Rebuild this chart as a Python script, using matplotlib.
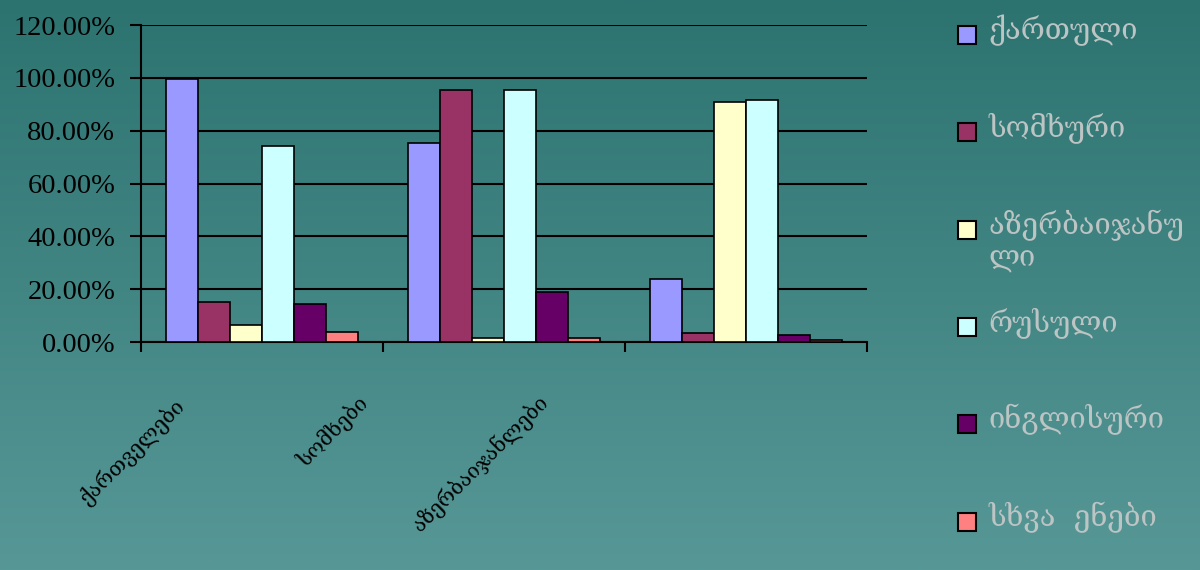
import numpy as np
import matplotlib
matplotlib.use('Agg')
import matplotlib.pyplot as plt
from matplotlib.patches import Rectangle
from matplotlib.ticker import PercentFormatter

# ეროვნებები (კატეგორიები) და ენები (სერიები)
groups = ['ქართველები', 'სომხები', 'აზერბაიჯანლები']
languages = ['ქართული', 'სომხური', 'აზერბაიჯანული', 'რუსული', 'ინგლისური', 'სხვა ენები']
legend_labels = ['ქართული', 'სომხური', 'აზერბაიჯანუ\nლი', 'რუსული', 'ინგლისური', 'სხვა  ენები']
colors = ['#9999FF', '#993366', '#FFFFCC', '#CCFFFF', '#660066', '#FF8080']

# პროცენტები, თითო ენა - სამი ჯგუფისთვის
kartuli = [99.5, 75.3, 23.8]
somkhuri = [15.1, 95.6, 3.5]
azeri = [6.4, 1.6, 90.7]
rusuli = [74.2, 95.6, 91.7]
inglisuri = [14.4, 19.0, 2.6]
skhva = [3.8, 1.6, 0.7]
values = [kartuli, somkhuri, azeri, rusuli, inglisuri, skhva]

serif = ['Liberation Serif', 'DejaVu Serif']
geo = ['DejaVu Serif', 'DejaVu Sans']

fig = plt.figure(figsize=(12, 5.7), dpi=100)

# ფონი - გრადიენტი
bg = fig.add_axes([0, 0, 1, 1], zorder=-10)
grad = np.linspace(0, 1, 256).reshape(-1, 1)
top = np.array([0x2C, 0x73, 0x70]) / 255
bot = np.array([0x57, 0x98, 0x97]) / 255
img = top + (bot - top) * grad[:, :, None]
bg.imshow(img, aspect='auto', extent=[0, 1, 0, 1])
bg.axis('off')

ax = fig.add_axes([0.1175, 0.4, 0.605, 0.556])
ax.patch.set_alpha(0)

x = np.arange(len(groups)) + 0.5
w = 0.132
for i, (vals, col) in enumerate(zip(values, colors)):
    ax.bar(x + (i - 2.5) * w, vals, width=w, color=col, edgecolor='black',
           linewidth=1.2, zorder=3)

ax.set_xlim(0, 3)
ax.set_ylim(0, 120)
ax.set_yticks(np.arange(0, 121, 20))
ax.yaxis.set_major_formatter(PercentFormatter(decimals=2))
ax.grid(axis='y', color='black', linewidth=1.5, zorder=1)
ax.set_axisbelow(True)
for s in ['top', 'right']:
    ax.spines[s].set_visible(False)
ax.spines['left'].set_linewidth(1.5)
ax.spines['bottom'].set_linewidth(1.5)
ax.tick_params(axis='y', length=8, width=1.5, labelsize=20.5, pad=10.5)
ax.tick_params(axis='x', length=7, width=1.5, labelbottom=False)
ax.set_xticks([0, 1, 2, 3])
for lab in ax.get_yticklabels():
    lab.set_family(serif)

# დახრილი კატეგორიების წარწერები
label_pos = [(0.0675, -0.165), (0.3196, -0.158), (0.5675, -0.152)]
for g, (px, py) in zip(groups, label_pos):
    ax.text(px, py, g, transform=ax.transAxes, rotation=45, ha='right', va='top',
            fontsize=15, family=geo, color='black')

# ლეგენდა
for i, (lab, col) in enumerate(zip(legend_labels, colors)):
    yc = 1 - (35 + i * 97.3) / 570
    fig.patches.append(Rectangle((958 / 1200, yc - 9 / 570), 18 / 1200, 18 / 570,
                                 transform=fig.transFigure, facecolor=col,
                                 edgecolor='black', linewidth=1.5))
    fig.text(988 / 1200, yc + 20 / 570, lab, va='top', ha='left', fontsize=21,
             family=geo, color='#BCC4C4', linespacing=1.15)

fig.savefig('out.png', dpi=100)
